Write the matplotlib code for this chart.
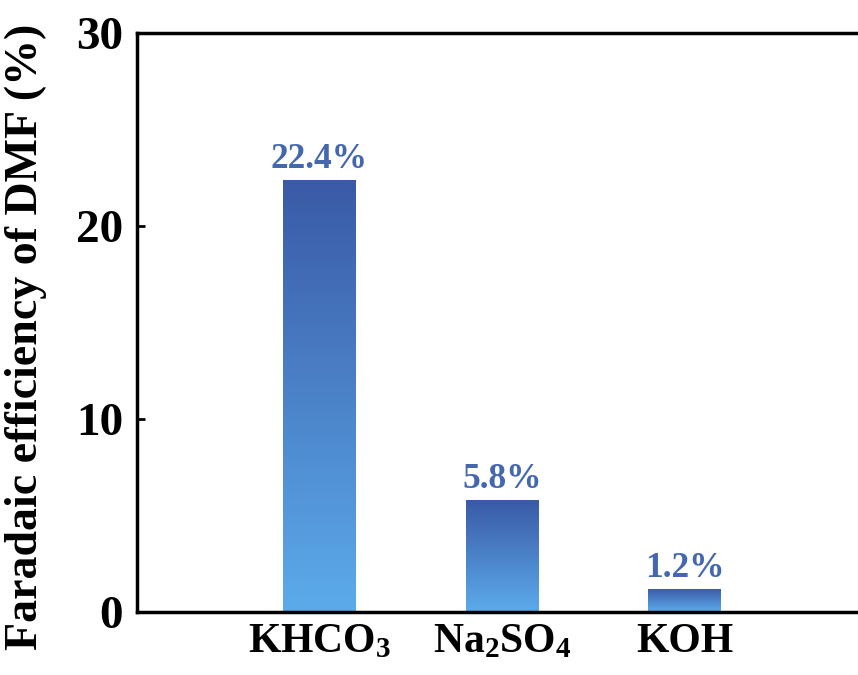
import numpy as np
import matplotlib
matplotlib.use("Agg")
import matplotlib.pyplot as plt
from matplotlib.colors import LinearSegmentedColormap

categories = ["KHCO$_3$", "Na$_2$SO$_4$", "KOH"]
values = [22.4, 5.8, 1.2]
labels = ["22.4%", "5.8%", "1.2%"]
yticks = [0, 10, 20, 30]

plt.rcParams['font.family'] = ['Liberation Serif', 'DejaVu Serif']
plt.rcParams['font.weight'] = 'bold'
plt.rcParams['mathtext.fontset'] = 'custom'
plt.rcParams['mathtext.rm'] = 'Liberation Serif:bold'
plt.rcParams['mathtext.it'] = 'Liberation Serif:bold'
plt.rcParams['mathtext.bf'] = 'Liberation Serif:bold'
plt.rcParams['mathtext.default'] = 'rm'

fig = plt.figure(figsize=(8.58, 6.75), dpi=100)
ax = fig.add_axes([137/858, 1-612/675, (867-137)/858, (612-33)/675])

cmap = LinearSegmentedColormap.from_list("g", ["#5cabeb", "#3a5aa6"])
x = np.arange(len(values))
w = 0.4
bars = ax.bar(x, values, width=w, color='none', edgecolor='none')
grad = np.linspace(0, 1, 256).reshape(-1, 1)
for b, v in zip(bars, values):
    im = ax.imshow(grad, cmap=cmap, origin='lower', aspect='auto',
                   extent=[b.get_x(), b.get_x() + b.get_width(), 0, v], zorder=2)
    im.set_clip_path(b)

for xi, v, lab in zip(x, values, labels):
    ax.text(xi, v + 0.2, lab, ha='center', va='bottom', fontsize=25.5,
            fontweight='bold', color='#4468ae')

ax.set_xlim(-1, 3)
ax.set_ylim(0, 30)
ax.set_yticks(yticks)
ax.set_yticklabels([str(t) for t in yticks], fontsize=34, fontweight='bold')
ax.set_xticks(x)
ax.set_xticklabels(categories, fontsize=30, fontweight='bold')
ax.tick_params(axis='y', direction='in', length=6, width=2, pad=10)
ax.tick_params(axis='x', length=0, pad=8)
ax.set_ylabel("Faradaic efficiency of DMF (%)", fontsize=33, fontweight='bold',
              va='center')
ax.yaxis.set_label_coords(-0.152, 0.475)
for s in ax.spines.values():
    s.set_linewidth(2.5)

fig.savefig("out.png", dpi=100)
